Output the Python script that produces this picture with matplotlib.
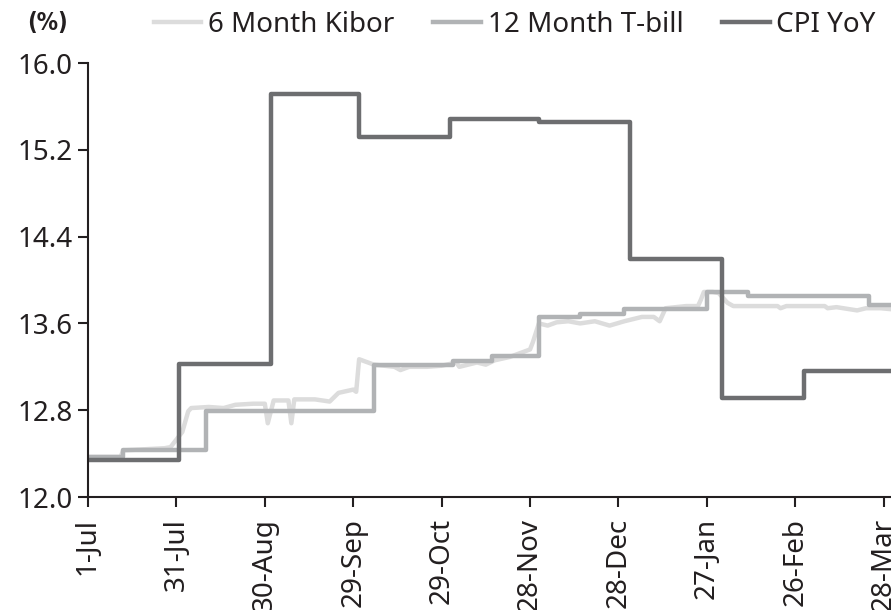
import matplotlib
matplotlib.use("Agg")
import matplotlib.pyplot as plt
import pandas as pd

plt.rcParams['font.family'] = ['Noto Sans', 'DejaVu Sans']

# CPI YoY, monthly (value holds for the whole month)
cpi_months = ["2010-07-01", "2010-08-01", "2010-09-01", "2010-10-01", "2010-11-01",
              "2010-12-01", "2011-01-01", "2011-02-01", "2011-03-01", "2011-03-31"]
cpi_values = [12.34, 13.23, 15.71, 15.32, 15.48, 15.46, 14.19, 12.91, 13.16, 13.16]

# 12 month T-bill cut-off yields at auction dates
tbill_dates = ["2010-07-01", "2010-07-13", "2010-08-10", "2010-10-06", "2010-11-02",
               "2010-11-15", "2010-12-01", "2010-12-15", "2010-12-30", "2011-01-27",
               "2011-02-10", "2011-03-23", "2011-03-31"]
tbill_values = [12.37, 12.43, 12.79, 13.22, 13.25, 13.30, 13.66, 13.69, 13.73, 13.89,
                13.85, 13.77, 13.77]

# 6 month Kibor, daily readings
kibor_dates = ["2010-07-01", "2010-07-12", "2010-07-13", "2010-07-27", "2010-07-29",
               "2010-08-02", "2010-08-04", "2010-08-05", "2010-08-11", "2010-08-16",
               "2010-08-20", "2010-08-26", "2010-08-30", "2010-08-31", "2010-09-02",
               "2010-09-07", "2010-09-08", "2010-09-09", "2010-09-16", "2010-09-21",
               "2010-09-24", "2010-09-29", "2010-09-30", "2010-10-01", "2010-10-06",
               "2010-10-13", "2010-10-15", "2010-10-18", "2010-10-24", "2010-10-29",
               "2010-11-03", "2010-11-04", "2010-11-10", "2010-11-13", "2010-11-16",
               "2010-11-21", "2010-11-25", "2010-11-28", "2010-11-29", "2010-12-01",
               "2010-12-04", "2010-12-07", "2010-12-11", "2010-12-15", "2010-12-20",
               "2010-12-25", "2010-12-30", "2011-01-05", "2011-01-09", "2011-01-11",
               "2011-01-13", "2011-01-20", "2011-01-24", "2011-01-25", "2011-01-26",
               "2011-01-29", "2011-01-31", "2011-02-03", "2011-02-05", "2011-02-20",
               "2011-02-21", "2011-02-23", "2011-03-08", "2011-03-09", "2011-03-12",
               "2011-03-19", "2011-03-22", "2011-03-27", "2011-03-31"]
kibor_values = [12.37, 12.37, 12.43, 12.45, 12.46,
                12.60, 12.79, 12.82, 12.83, 12.82,
                12.85, 12.86, 12.86, 12.68, 12.89,
                12.89, 12.68, 12.90, 12.90, 12.88,
                12.96, 12.99, 12.97, 13.27, 13.22,
                13.20, 13.17, 13.20, 13.20, 13.21,
                13.24, 13.20, 13.24, 13.22, 13.26,
                13.29, 13.33, 13.36, 13.43, 13.60,
                13.58, 13.61, 13.62, 13.60, 13.62,
                13.58, 13.62, 13.66, 13.66, 13.62,
                13.74, 13.76, 13.76, 13.82, 13.89,
                13.89, 13.88, 13.79, 13.76, 13.76,
                13.74, 13.76, 13.76, 13.74, 13.75,
                13.72, 13.74, 13.74, 13.73]

start = pd.Timestamp("2010-07-01")
tick_dates = [start + pd.Timedelta(days=30 * i) for i in range(10)]
tick_labels = [d.strftime("%-d-%b") for d in tick_dates]
y_ticks = [12.0, 12.8, 13.6, 14.4, 15.2, 16.0]

text_col = "#231f20"

fig = plt.figure(figsize=(8.91, 6.10), dpi=100)
ax = fig.add_axes([0.0988, 0.1852, 0.9012, 0.7115])

ax.plot(pd.to_datetime(kibor_dates), kibor_values, color="#dcdcdc", lw=3.2,
        label="6 Month Kibor", solid_joinstyle="round")
ax.plot(pd.to_datetime(tbill_dates), tbill_values, color="#b1b3b5", lw=3.2,
        drawstyle="steps-post", label="12 Month T-bill")
ax.plot(pd.to_datetime(cpi_months), cpi_values, color="#6d6e70", lw=3.2,
        drawstyle="steps-post", label="CPI YoY")

ax.set_ylim(12.0, 16.0)
ax.set_xlim(start, pd.Timestamp("2011-03-30 12:00"))
ax.set_yticks(y_ticks)
ax.set_yticklabels([f"{v:.1f}" for v in y_ticks])
ax.set_xticks(tick_dates)
ax.set_xticklabels(tick_labels, rotation=90)

for s in ["top", "right"]:
    ax.spines[s].set_visible(False)
for s in ["left", "bottom"]:
    ax.spines[s].set_linewidth(1.5)
    ax.spines[s].set_color(text_col)
ax.tick_params(axis="both", direction="out", length=7, width=1.5, color=text_col,
               labelsize=20, labelcolor=text_col, pad=4)
ax.tick_params(axis="x", pad=8)

fig.text(0.031, 0.963, "(%)", fontsize=17, fontweight="bold", color=text_col,
         va="center", ha="left", family=["DejaVu Sans"], stretch="condensed")

fig.legend(loc="center", bbox_to_anchor=(0.578, 0.959), ncol=3, frameon=False,
           fontsize=20, handlelength=1.7, handletextpad=0.25, columnspacing=1.4,
           labelcolor=text_col)

fig.savefig("out.png", dpi=100)
